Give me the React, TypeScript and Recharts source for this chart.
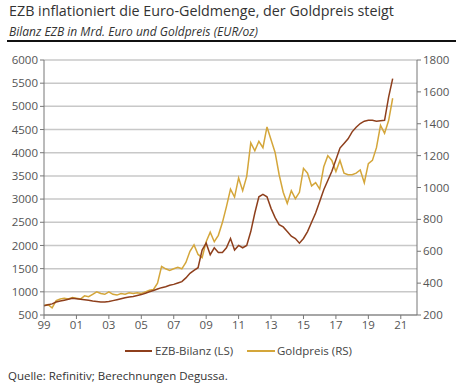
import React from 'react';
import { LineChart, Line, XAxis, YAxis, CartesianGrid } from 'recharts';

const dates = [
  1999.0, 1999.25, 1999.5, 1999.75, 2000.0, 2000.25, 2000.5, 2000.75,
  2001.0, 2001.25, 2001.5, 2001.75, 2002.0, 2002.25, 2002.5, 2002.75,
  2003.0, 2003.25, 2003.5, 2003.75, 2004.0, 2004.25, 2004.5, 2004.75,
  2005.0, 2005.25, 2005.5, 2005.75, 2006.0, 2006.25, 2006.5, 2006.75,
  2007.0, 2007.25, 2007.5, 2007.75, 2008.0, 2008.25, 2008.5, 2008.75,
  2009.0, 2009.25, 2009.5, 2009.75, 2010.0, 2010.25, 2010.5, 2010.75,
  2011.0, 2011.25, 2011.5, 2011.75, 2012.0, 2012.25, 2012.5, 2012.75,
  2013.0, 2013.25, 2013.5, 2013.75, 2014.0, 2014.25, 2014.5, 2014.75,
  2015.0, 2015.25, 2015.5, 2015.75, 2016.0, 2016.25, 2016.5, 2016.75,
  2017.0, 2017.25, 2017.5, 2017.75, 2018.0, 2018.25, 2018.5, 2018.75,
  2019.0, 2019.25, 2019.5, 2019.75, 2020.0, 2020.25, 2020.5,
];

const ezbBilanz = [
  700, 720, 740, 780, 800, 820, 840, 860,
  850, 840, 830, 820, 800, 790, 780, 780,
  790, 810, 830, 850, 870, 890, 900, 920,
  940, 970, 1000, 1030, 1060, 1090, 1110, 1140,
  1160, 1190, 1220, 1300, 1400, 1460, 1520, 1900,
  2050, 1800, 1950, 1850, 1850, 1950, 2150, 1900,
  2000, 1950, 2000, 2300, 2700, 3050, 3100, 3050,
  2800, 2600, 2450, 2400, 2300, 2200, 2150, 2050,
  2150, 2300, 2500, 2700, 2950, 3200, 3400, 3600,
  3850, 4100, 4200, 4300, 4450, 4550, 4630, 4680,
  4700, 4700, 4680, 4690, 4700, 5200, 5600,
];

const goldpreis = [
  260, 265, 245, 290, 300, 305, 300, 310,
  305, 300, 320, 315, 330, 345, 335, 330,
  345, 330, 325, 335, 330, 340, 335, 340,
  335, 345, 355, 360, 400, 505, 490, 480,
  490, 500, 490, 530, 600, 640, 580, 560,
  660, 720, 660, 700, 780, 880, 990, 940,
  1060, 980, 1070, 1280, 1230, 1290, 1250, 1380,
  1300, 1220, 1080, 970, 900, 980, 930, 970,
  1120, 1090, 1010, 1030, 990, 1130, 1200, 1170,
  1100, 1170, 1090, 1080, 1080, 1090, 1110, 1030,
  1150, 1170, 1250, 1390, 1340, 1420, 1560,
];

const yearTicks = [1999, 2001, 2003, 2005, 2007, 2009, 2011, 2013, 2015, 2017, 2019, 2021];
const leftTicks = [500, 1000, 1500, 2000, 2500, 3000, 3500, 4000, 4500, 5000, 5500, 6000];
const rightTicks = [200, 400, 600, 800, 1000, 1200, 1400, 1600, 1800];

const BROWN = '#8E3F1C';
const GOLD = '#D4A63A';
const FONT = "'Open Sans', 'Noto Sans', sans-serif";

const data = dates.map((t, i) => ({ t, ezb: ezbBilanz[i], gold: goldpreis[i] }));

const tickStyle = { fontSize: 11.5, fill: '#555', fontFamily: FONT };

export default function App() {
  return (
    <div style={{ position: 'absolute', left: 0, top: 0, width: 469, height: 392, background: '#fff', fontFamily: FONT }}>
      <div style={{ position: 'absolute', left: 9, top: 1, fontSize: 14.3, color: '#333', whiteSpace: 'nowrap' }}>
        EZB inflationiert die Euro-Geldmenge, der Goldpreis steigt
      </div>
      <div style={{ position: 'absolute', left: 9, top: 23, fontSize: 12, fontStyle: 'italic', color: '#333', whiteSpace: 'nowrap' }}>
        Bilanz EZB in Mrd. Euro und Goldpreis (EUR/oz)
      </div>
      <div style={{ position: 'absolute', left: 7, top: 40, width: 449, height: 2, background: '#111' }} />
      <LineChart
        width={469}
        height={392}
        data={data}
        margin={{ top: 60, left: 4, right: 7, bottom: 57 }}
        style={{ position: 'absolute', left: 0, top: 0 }}
      >
        <CartesianGrid yAxisId="left" vertical={false} stroke="#c8c8c8" strokeWidth={1.5} />
        <XAxis
          dataKey="t"
          type="number"
          domain={[1999, 2022]}
          ticks={yearTicks}
          tickFormatter={(v: number) => String(v).slice(2)}
          tick={tickStyle}
          stroke="#777"
          tickSize={4}
          height={20}
          interval={0}
        />
        <YAxis
          yAxisId="left"
          domain={[500, 6000]}
          ticks={leftTicks}
          tick={tickStyle}
          stroke="#777"
          tickSize={4}
          width={40}
          interval={0}
        />
        <YAxis
          yAxisId="right"
          orientation="right"
          domain={[200, 1800]}
          ticks={rightTicks}
          tick={tickStyle}
          stroke="#777"
          tickSize={4}
          width={45}
          interval={0}
        />
        <Line yAxisId="right" dataKey="gold" stroke={GOLD} strokeWidth={1.5} dot={false} isAnimationActive={false} />
        <Line yAxisId="left" dataKey="ezb" stroke={BROWN} strokeWidth={1.5} dot={false} isAnimationActive={false} />
      </LineChart>
      <div style={{ position: 'absolute', left: 125, top: 350, width: 27, height: 2, background: BROWN }} />
      <div style={{ position: 'absolute', left: 155, top: 343, fontSize: 11.5, color: '#444', whiteSpace: 'nowrap' }}>EZB-Bilanz (LS)</div>
      <div style={{ position: 'absolute', left: 247, top: 350, width: 28, height: 2, background: GOLD }} />
      <div style={{ position: 'absolute', left: 277, top: 343, fontSize: 11.5, color: '#444', whiteSpace: 'nowrap' }}>Goldpreis (RS)</div>
      <div style={{ position: 'absolute', left: 8, top: 368, fontSize: 11.5, color: '#333', whiteSpace: 'nowrap' }}>
        Quelle: Refinitiv; Berechnungen Degussa.
      </div>
    </div>
  );
}
